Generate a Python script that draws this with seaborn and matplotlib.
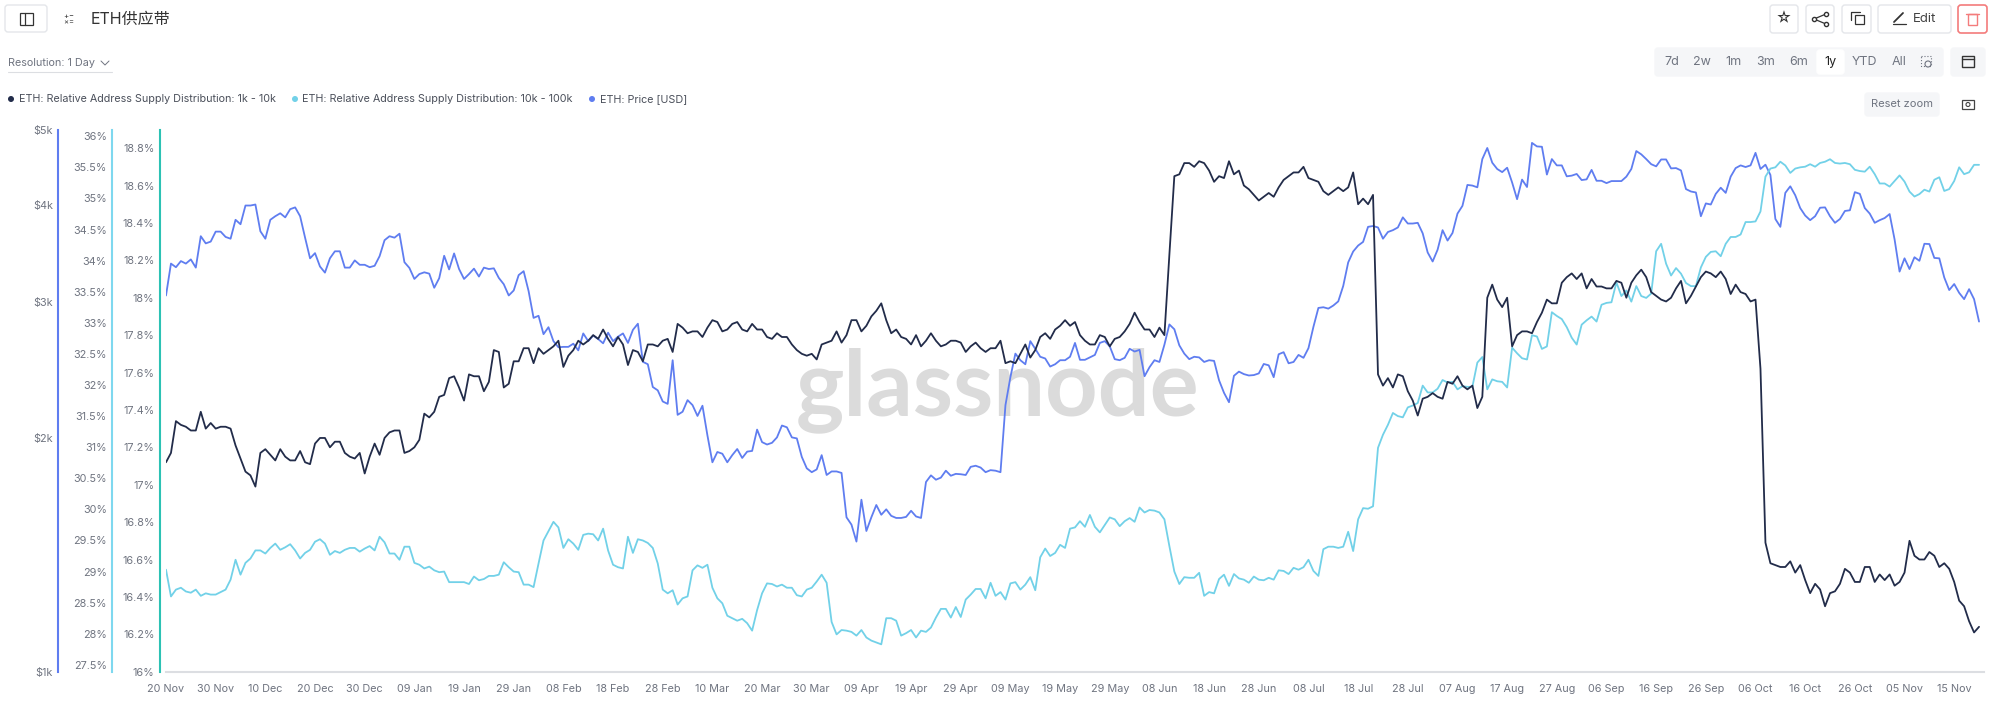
import pandas as pd
import matplotlib.pyplot as plt
import seaborn as sns
from matplotlib.patches import FancyBboxPatch, Circle, Rectangle

supply_1k_10k = [
    17.12, 17.17, 17.34, 17.32, 17.31, 17.29, 17.29, 17.39, 17.30, 17.33, 17.30, 17.31, 17.31, 17.30, 17.21, 17.14, 17.07, 17.05, 16.99, 17.17,
    17.19, 17.16, 17.13, 17.19, 17.15, 17.13, 17.13, 17.18, 17.12, 17.11, 17.22, 17.25, 17.25, 17.20, 17.23, 17.23, 17.17, 17.15, 17.14, 17.17,
    17.06, 17.15, 17.22, 17.16, 17.25, 17.28, 17.29, 17.29, 17.17, 17.18, 17.20, 17.24, 17.38, 17.36, 17.39, 17.47, 17.48, 17.57, 17.58, 17.52,
    17.45, 17.59, 17.58, 17.58, 17.50, 17.55, 17.72, 17.71, 17.52, 17.54, 17.66, 17.66, 17.73, 17.73, 17.65, 17.73, 17.70, 17.72, 17.74, 17.77,
    17.63, 17.69, 17.72, 17.77, 17.75, 17.77, 17.80, 17.78, 17.83, 17.78, 17.74, 17.79, 17.75, 17.64, 17.72, 17.71, 17.66, 17.75, 17.75, 17.74,
    17.77, 17.78, 17.71, 17.86, 17.84, 17.81, 17.82, 17.82, 17.79, 17.84, 17.88, 17.87, 17.82, 17.83, 17.86, 17.87, 17.83, 17.82, 17.86, 17.83,
    17.83, 17.79, 17.78, 17.81, 17.79, 17.79, 17.75, 17.72, 17.70, 17.69, 17.70, 17.67, 17.75, 17.76, 17.77, 17.82, 17.76, 17.80, 17.88, 17.88,
    17.82, 17.85, 17.90, 17.93, 17.97, 17.88, 17.81, 17.83, 17.79, 17.78, 17.75, 17.80, 17.74, 17.77, 17.81, 17.77, 17.74, 17.75, 17.77, 17.77,
    17.76, 17.71, 17.74, 17.76, 17.73, 17.71, 17.73, 17.73, 17.77, 17.65, 17.66, 17.65, 17.70, 17.75, 17.68, 17.72, 17.79, 17.81, 17.78, 17.83,
    17.85, 17.88, 17.85, 17.87, 17.80, 17.77, 17.75, 17.75, 17.80, 17.79, 17.74, 17.78, 17.79, 17.82, 17.86, 17.92, 17.87, 17.83, 17.83, 17.79,
    17.84, 17.80, 18.23, 18.65, 18.66, 18.72, 18.72, 18.70, 18.73, 18.72, 18.68, 18.62, 18.65, 18.64, 18.73, 18.66, 18.68, 18.60, 18.58, 18.55,
    18.52, 18.54, 18.56, 18.54, 18.59, 18.63, 18.65, 18.67, 18.67, 18.70, 18.64, 18.63, 18.62, 18.57, 18.55, 18.57, 18.59, 18.57, 18.59, 18.67,
    18.50, 18.53, 18.50, 18.55, 17.59, 17.53, 17.57, 17.52, 17.59, 17.58, 17.50, 17.45, 17.37, 17.46, 17.47, 17.49, 17.47, 17.46, 17.55, 17.54,
    17.58, 17.53, 17.51, 17.53, 17.41, 17.47, 18.00, 18.07, 17.99, 17.95, 18.00, 17.74, 17.80, 17.82, 17.82, 17.81, 17.87, 17.92, 17.99, 17.97,
    17.97, 18.08, 18.11, 18.13, 18.10, 18.13, 18.05, 18.10, 18.06, 18.06, 18.05, 18.05, 18.09, 18.08, 18.00, 18.08, 18.12, 18.15, 18.11, 18.03,
    18.01, 17.99, 17.98, 18.00, 18.05, 18.09, 17.97, 18.01, 18.06, 18.11, 18.14, 18.13, 18.11, 18.14, 18.10, 18.02, 18.07, 18.03, 18.02, 17.98,
    17.99, 17.62, 16.69, 16.58, 16.57, 16.56, 16.56, 16.59, 16.53, 16.57, 16.49, 16.42, 16.47, 16.44, 16.35, 16.42, 16.43, 16.47, 16.55, 16.53,
    16.48, 16.48, 16.56, 16.56, 16.48, 16.52, 16.49, 16.52, 16.46, 16.48, 16.53, 16.70, 16.62, 16.60, 16.60, 16.64, 16.62, 16.56, 16.58, 16.55,
    16.48, 16.38, 16.35, 16.27, 16.21, 16.24,
]

supply_10k_100k = [
    29.03, 28.60, 28.71, 28.74, 28.68, 28.66, 28.71, 28.61, 28.65, 28.63, 28.63, 28.67, 28.71, 28.87, 29.19, 28.95, 29.14, 29.21, 29.34, 29.34,
    29.29, 29.38, 29.45, 29.35, 29.39, 29.44, 29.34, 29.21, 29.30, 29.35, 29.48, 29.52, 29.45, 29.27, 29.33, 29.30, 29.35, 29.38, 29.38, 29.32,
    29.37, 29.41, 29.34, 29.56, 29.47, 29.29, 29.29, 29.19, 29.40, 29.40, 29.14, 29.11, 29.05, 29.08, 29.02, 28.99, 29.00, 28.83, 28.83, 28.83,
    28.83, 28.80, 28.92, 28.86, 28.88, 28.93, 28.93, 28.95, 29.15, 29.07, 29.00, 28.99, 28.79, 28.79, 28.75, 29.13, 29.50, 29.65, 29.80, 29.71,
    29.38, 29.52, 29.45, 29.35, 29.59, 29.61, 29.60, 29.50, 29.69, 29.34, 29.11, 29.07, 29.05, 29.56, 29.30, 29.52, 29.50, 29.46, 29.38, 29.13,
    28.71, 28.65, 28.70, 28.47, 28.57, 28.60, 29.02, 29.10, 29.06, 29.11, 28.74, 28.57, 28.49, 28.29, 28.25, 28.21, 28.24, 28.17, 28.05, 28.38,
    28.65, 28.81, 28.80, 28.76, 28.79, 28.74, 28.74, 28.62, 28.60, 28.71, 28.74, 28.84, 28.95, 28.82, 28.19, 27.99, 28.06, 28.05, 28.03, 27.97,
    28.06, 27.94, 27.89, 27.86, 27.83, 28.25, 28.25, 28.21, 27.97, 28.01, 28.06, 27.94, 28.05, 28.03, 28.10, 28.26, 28.40, 28.40, 28.26, 28.43,
    28.27, 28.55, 28.63, 28.72, 28.72, 28.57, 28.82, 28.61, 28.67, 28.55, 28.81, 28.83, 28.71, 28.79, 28.91, 28.70, 29.23, 29.37, 29.25, 29.30,
    29.43, 29.38, 29.69, 29.71, 29.81, 29.72, 29.91, 29.72, 29.63, 29.75, 29.87, 29.84, 29.73, 29.81, 29.86, 29.80, 30.03, 29.95, 29.99, 29.98,
    29.95, 29.84, 29.41, 29.00, 28.80, 28.91, 28.90, 28.90, 28.98, 28.61, 28.67, 28.65, 28.88, 28.95, 28.77, 28.96, 28.89, 28.87, 28.82, 28.92,
    28.87, 28.86, 28.90, 28.87, 29.02, 29.01, 28.96, 29.06, 29.03, 29.07, 29.19, 29.01, 28.93, 29.36, 29.40, 29.40, 29.38, 29.40, 29.64, 29.33,
    29.84, 30.02, 30.01, 30.05, 30.99, 31.20, 31.36, 31.55, 31.50, 31.48, 31.64, 31.67, 31.71, 31.99, 31.88, 31.88, 31.94, 32.08, 32.04, 32.05,
    31.93, 31.98, 31.97, 31.97, 32.36, 32.45, 31.93, 32.09, 32.06, 32.05, 31.96, 32.60, 32.51, 32.43, 32.41, 32.80, 32.78, 32.58, 32.62, 33.17,
    33.11, 33.06, 32.93, 32.76, 32.65, 32.97, 33.04, 33.10, 33.02, 33.29, 33.32, 33.33, 33.65, 33.43, 33.52, 33.34, 33.59, 33.43, 33.40, 33.47,
    34.15, 34.27, 33.95, 33.76, 33.88, 33.79, 33.64, 33.59, 33.59, 33.89, 34.06, 34.14, 34.15, 34.07, 34.27, 34.38, 34.38, 34.42, 34.62, 34.62,
    34.63, 34.79, 35.35, 35.48, 35.50, 35.59, 35.53, 35.41, 35.48, 35.50, 35.51, 35.55, 35.51, 35.57, 35.59, 35.63, 35.57, 35.56, 35.57, 35.55,
    35.46, 35.44, 35.43, 35.51, 35.39, 35.24, 35.24, 35.19, 35.28, 35.37, 35.27, 35.11, 35.03, 35.07, 35.14, 35.11, 35.30, 35.34, 35.12, 35.15,
    35.28, 35.50, 35.39, 35.42, 35.54, 35.54,
]

price_usd = [
    3058, 3362, 3326, 3387, 3362, 3404, 3322, 3647, 3570, 3589, 3697, 3697, 3639, 3620, 3829, 3779, 3995, 3995, 4007, 3701,
    3620, 3829, 3870, 3904, 3857, 3952, 3973, 3870, 3631, 3415, 3468, 3333, 3273, 3415, 3487, 3487, 3322, 3322, 3394, 3350,
    3350, 3326, 3340, 3437, 3604, 3647, 3631, 3674, 3376, 3319, 3212, 3259, 3276, 3263, 3129, 3219, 3441, 3304, 3465, 3308,
    3212, 3259, 3312, 3235, 3322, 3308, 3315, 3222, 3162, 3058, 3104, 3249, 3287, 3098, 2861, 2879, 2726, 2783, 2670, 2622,
    2625, 2625, 2650, 2598, 2732, 2670, 2715, 2687, 2653, 2738, 2670, 2706, 2732, 2656, 2761, 2812, 2511, 2493, 2330, 2307,
    2232, 2216, 2523, 2145, 2165, 2241, 2208, 2138, 2204, 2018, 1863, 1921, 1911, 1863, 1903, 1938, 1887, 1923, 1927, 2053,
    1978, 1964, 1974, 2006, 2078, 2067, 2006, 2000, 1893, 1830, 1809, 1824, 1903, 1794, 1813, 1813, 1805, 1582, 1548, 1472,
    1667, 1519, 1582, 1641, 1594, 1620, 1589, 1579, 1579, 1584, 1613, 1586, 1579, 1757, 1792, 1769, 1780, 1817, 1790, 1800,
    1798, 1794, 1838, 1844, 1834, 1809, 1820, 1817, 1809, 2208, 2400, 2573, 2523, 2493, 2670, 2610, 2549, 2536, 2476, 2493,
    2523, 2523, 2549, 2656, 2526, 2526, 2544, 2563, 2656, 2670, 2629, 2531, 2523, 2541, 2610, 2589, 2602, 2406, 2471, 2523,
    2510, 2642, 2806, 2766, 2637, 2573, 2531, 2549, 2544, 2510, 2523, 2518, 2377, 2290, 2227, 2409, 2439, 2421, 2411, 2414,
    2426, 2495, 2485, 2399, 2568, 2584, 2500, 2510, 2563, 2541, 2615, 2786, 2947, 2953, 2941, 2968, 3005, 3146, 3374, 3485,
    3547, 3586, 3750, 3759, 3743, 3620, 3693, 3713, 3743, 3857, 3787, 3787, 3795, 3678, 3475, 3383, 3504, 3713, 3600, 3682,
    3900, 3991, 4247, 4239, 4217, 4586, 4740, 4537, 4453, 4412, 4470, 4278, 4071, 4315, 4221, 4812, 4762, 4757, 4380, 4586,
    4501, 4501, 4357, 4366, 4388, 4309, 4318, 4441, 4300, 4300, 4270, 4296, 4296, 4296, 4353, 4453, 4697, 4651, 4586, 4517,
    4488, 4581, 4581, 4461, 4465, 4434, 4195, 4165, 4153, 3870, 4020, 4007, 4136, 4212, 4148, 4353, 4465, 4501, 4479, 4501,
    4672, 4453, 4510, 4375, 3838, 3750, 4148, 4230, 4119, 3965, 3878, 3825, 3870, 3969, 3973, 3870, 3795, 3838, 3931, 3939,
    4157, 4136, 3965, 3900, 3795, 3825, 3849, 3895, 3612, 3283, 3415, 3308, 3426, 3390, 3566, 3563, 3419, 3415, 3226, 3108,
    3164, 3082, 3025, 3116, 3025, 2830,
]

pct_left = [16, 16.2, 16.4, 16.6, 16.8, 17, 17.2, 17.4, 17.6, 17.8, 18, 18.2, 18.4, 18.6, 18.8]
pct_mid = [27.5, 28, 28.5, 29, 29.5, 30, 30.5, 31, 31.5, 32, 32.5, 33, 33.5, 34, 34.5, 35, 35.5, 36]
price_ticks = [1000, 2000, 3000, 4000, 5000]
price_labels = ["$1k", "$2k", "$3k", "$4k", "$5k"]
ranges = ["7d", "2w", "1m", "3m", "6m", "1y", "YTD", "All"]
range_x = [1672, 1702, 1734, 1766, 1799, 1830, 1864, 1899]

DARK = "#222c4a"
CYAN = "#72d1e8"
BLUE = "#5f7df0"
GREY = "#6f7480"

sns.set_theme(style="white")
plt.rcParams["font.family"] = ["Inter", "Noto Sans CJK SC", "DejaVu Sans"]

dates = pd.date_range("2024-11-20", periods=366)
df = pd.DataFrame({"date": dates, "a": supply_1k_10k, "b": supply_10k_100k, "p": price_usd})

fig = plt.figure(figsize=(20.03, 7.11), dpi=100, facecolor="white")
ax = fig.add_axes([166 / 2003, 39.3 / 711, 1818 / 2003, 541.7 / 711])
ax2 = ax.twinx()
ax3 = ax.twinx()

sns.lineplot(data=df, x="date", y="p", ax=ax3, color=BLUE, linewidth=1.3)
sns.lineplot(data=df, x="date", y="b", ax=ax2, color=CYAN, linewidth=1.3)
sns.lineplot(data=df, x="date", y="a", ax=ax, color=DARK, linewidth=1.3)

ax.set_zorder(3)
ax2.set_zorder(2)
ax3.set_zorder(1)
ax.patch.set_visible(False)
ax2.patch.set_visible(False)

ax.set_xlim(dates[0], dates[0] + pd.Timedelta(days=366))
ax.set_ylim(16, 18.897)
ax2.set_ylim(27.39, 36.1)
ax3.set_yscale("log")
ax3.set_ylim(1000, 5000)

ax.set_yticks(pct_left, [f"{v:g}%" for v in pct_left])
ax2.set_yticks(pct_mid, [f"{v:g}%" for v in pct_mid])
ax3.set_yticks(price_ticks, price_labels)
ax3.minorticks_off()

for a, col, off in [(ax, "#2cc2b4", 4.3), (ax2, "#7ed8ef", 38.6), (ax3, BLUE, 77.4)]:
    for s in ["top", "right", "bottom", "left"]:
        a.spines[s].set_visible(False)
    a.spines["left"].set_visible(True)
    a.spines["left"].set_position(("outward", off))
    a.spines["left"].set_color(col)
    a.spines["left"].set_linewidth(1.5)
    a.yaxis.set_ticks_position("left")
    a.yaxis.set_label_position("left")
    a.tick_params(axis="y", length=0, pad=4, labelsize=7.8, labelcolor=GREY)
    a.set_xlabel("")
    a.set_ylabel("")

ax.spines["bottom"].set_visible(True)
ax.spines["bottom"].set_color("#dcdee2")
ax.spines["bottom"].set_linewidth(1.5)
ax.set_xticks(dates[::10], [d.strftime("%d %b") for d in dates[::10]])
ax.tick_params(axis="x", length=5, width=0.8, color="#dcdee2", pad=3.5, labelsize=7.8, labelcolor=GREY)
ax2.tick_params(axis="x", length=0, labelbottom=False)
ax3.tick_params(axis="x", length=0, labelbottom=False)

# watermark goes under the lines
ax3.text(0.4576, 0.52, "glassnode", transform=ax3.transAxes, ha="center", va="center",
         fontsize=66, color="#dbdbdb", family="Lato", weight="bold", zorder=0)

# page chrome, in pixels
ui = fig.add_axes([0, 0, 1, 1], zorder=10)
ui.set_xlim(0, 2003)
ui.set_ylim(711, 0)
ui.axis("off")


def box(x0, y0, x1, y1, fc="white", ec="#e4e6ea", lw=1.0):
    ui.add_patch(FancyBboxPatch((x0, y0), x1 - x0, y1 - y0, boxstyle="round,pad=0,rounding_size=3",
                                fc=fc, ec=ec, lw=lw))


def label(x, y, s, size=8.6, color=GREY, ha="center"):
    ui.text(x, y, s, fontsize=size, color=color, ha=ha, va="center")


box(5, 5, 47, 32)
ui.add_patch(Rectangle((20, 13), 13, 12, fc="none", ec="#333", lw=0.9))
ui.plot([24.5, 24.5], [13, 25], color="#333", lw=0.9)
label(66, 15.5, "+", 5.5, "#333")
label(71, 15.5, "−", 5.5, "#333")
label(66, 22, "×", 5.5, "#333")
label(71, 22, "=", 5.5, "#333")
label(91, 19, "ETH供应带", 11.5, "#333", "left")

label(8, 63, "Resolution: 1 Day", 7.8, GREY, "left")
ui.plot([101, 105, 109], [61, 65, 61], color=GREY, lw=0.7)
ui.plot([8, 112], [72, 72], color="#dcdee2", lw=0.8)

for mx, tx, c, s in [(11, 19, DARK, "ETH: Relative Address Supply Distribution: 1k - 10k"),
                     (295, 302, CYAN, "ETH: Relative Address Supply Distribution: 10k - 100k"),
                     (592, 599.5, BLUE, "ETH: Price [USD]")]:
    ui.add_patch(Circle((mx, 99), 3, fc=c, ec="none"))
    label(tx, 99, s, 7.75, "#4a4f5a", "left")

for x0, x1 in [(1770, 1798), (1806, 1834), (1842, 1871), (1878, 1951)]:
    box(x0, 5, x1, 33)
box(1958, 5, 1987, 33, ec="#f47c7c", lw=1.2)
label(1784, 19, "☆", 11, "#333")
ui.plot([1826, 1814, 1826], [14, 19, 24], color="#333", lw=0.9, marker="o", ms=3, mfc="white")
ui.add_patch(Rectangle((1855, 15), 9, 9, fc="white", ec="#333", lw=0.9))
ui.plot([1851, 1851, 1860], [20, 12, 12], color="#333", lw=0.9)
ui.plot([1893, 1906], [24, 24], color="#333", lw=0.9)
ui.plot([1894, 1903], [22, 13], color="#333", lw=1.3)
label(1925, 19, "Edit", 9.5, "#444")
ui.add_patch(Rectangle((1968, 14), 9, 11, fc="none", ec="#f47c7c", lw=1))
ui.plot([1966, 1979], [14, 14], color="#f47c7c", lw=1)

box(1655, 48, 1943, 76, fc="#f5f6f8", ec="#f5f6f8")
box(1817, 50, 1844, 74, fc="white", ec="white")
for rx, r in zip(range_x, ranges):
    label(rx, 62, r, 9, "#222" if r == "1y" else GREY)
ui.add_patch(Rectangle((1921, 56), 10, 10, fc="none", ec=GREY, lw=0.8, ls=":"))
ui.add_patch(Circle((1928, 64), 3, fc="#f5f6f8", ec=GREY, lw=0.8))
box(1951, 48, 1985, 76, fc="#f5f6f8", ec="#f5f6f8")
ui.add_patch(Rectangle((1962, 56), 12, 11, fc="none", ec="#333", lw=1))
ui.plot([1962, 1974], [59, 59], color="#333", lw=1)

box(1865, 93, 1939, 116, fc="#f5f6f8", ec="#f5f6f8")
label(1902, 104, "Reset zoom", 8, GREY)
ui.add_patch(Rectangle((1962, 100), 12, 9, fc="none", ec="#444", lw=0.9))
ui.add_patch(Circle((1968, 104.5), 2, fc="none", ec="#444", lw=0.8))

fig.savefig("out.png", dpi=100)
